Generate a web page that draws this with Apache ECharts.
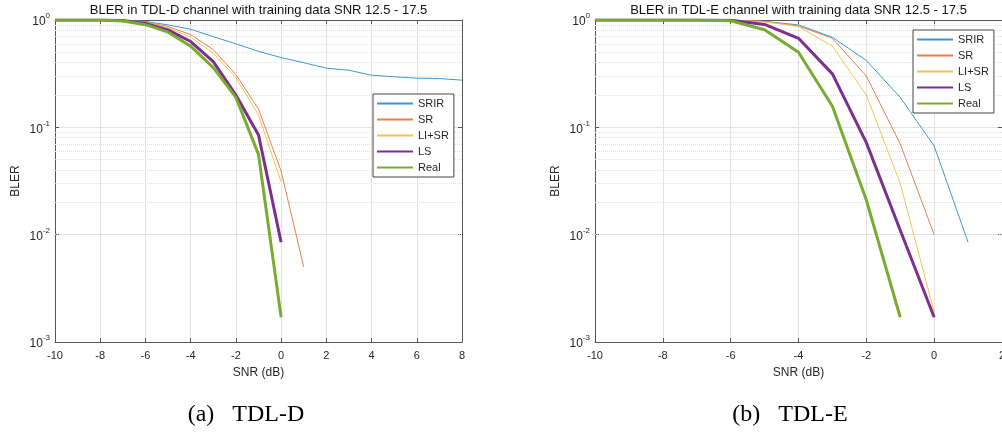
<!DOCTYPE html>
<html><head><meta charset="utf-8">
<script src="https://cdn.jsdelivr.net/npm/echarts@6/dist/echarts.min.js"></script>
<style>html,body{margin:0;padding:0;background:#fff}#c{width:1002px;height:432px}</style>
</head><body><div id="c"></div>
<script>
// ---- data ----
const seriesNames = ['SRIR', 'SR', 'LI+SR', 'LS', 'Real'];
const titleD = 'BLER in TDL-D channel with training data SNR 12.5 - 17.5';
const titleE = 'BLER in TDL-E channel with training data SNR 12.5 - 17.5';
const captionD = '(a)   TDL-D';
const captionE = '(b)   TDL-E';
const xAxisName = 'SNR (dB)';
const yAxisName = 'BLER';

// TDL-D
const snrD = [-10, -9, -8, -7, -6, -5, -4, -3, -2, -1, 0, 1, 2, 3, 4, 5, 6, 7, 8];
const srirD = [1, 1, 1, 0.99, 0.97, 0.90, 0.82, 0.70, 0.60, 0.51, 0.447, 0.40, 0.356, 0.34, 0.306, 0.296, 0.287, 0.285, 0.275];
const srD = [1, 1, 1, 0.995, 0.958, 0.87, 0.73, 0.53, 0.31, 0.148, 0.039, 0.005];
const lisrD = [1, 1, 1, 0.99, 0.95, 0.85, 0.69, 0.49, 0.29, 0.13, 0.031];
const lsD = [1, 1, 1, 0.99, 0.93, 0.81, 0.63, 0.41, 0.20, 0.085, 0.0085];
const realD = [1, 1, 1, 0.98, 0.905, 0.77, 0.57, 0.36, 0.19, 0.056, 0.0017];

// TDL-E
const snrE = [-10, -9, -8, -7, -6, -5, -4, -3, -2, -1, 0, 1];
const srirE = [1, 1, 1, 1, 1, 0.97, 0.90, 0.69, 0.42, 0.19, 0.067, 0.0085];
const srE = [1, 1, 1, 1, 1, 0.97, 0.88, 0.675, 0.30, 0.07, 0.010];
const lisrE = [1, 1, 1, 1, 1, 0.96, 0.87, 0.57, 0.20, 0.030, 0.0019];
const lsE = [1, 1, 1, 1, 0.995, 0.91, 0.675, 0.315, 0.072, 0.011, 0.0017];
const realE = [1, 1, 1, 1, 0.985, 0.81, 0.50, 0.157, 0.021, 0.0017];

const minorGridValues = [0.002, 0.003, 0.004, 0.005, 0.006, 0.007, 0.008, 0.009,
  0.02, 0.03, 0.04, 0.05, 0.06, 0.07, 0.08, 0.09,
  0.2, 0.3, 0.4, 0.5, 0.6, 0.7, 0.8, 0.9];

// ---- styles ----
const FONT = '"Liberation Sans", Arial, sans-serif';
const colors = ['#3f96d6', '#e4804f', '#f0c454', '#7e2f8e', '#77ac30'];
const widths = [1, 1, 1, 3, 3];
const AX = '#555555';

function pairs(xs, ys) { return ys.map((y, i) => [xs[i], y]); }

const chart = echarts.init(document.getElementById('c'), null, { renderer: 'canvas' });

function xAxes(grid, max) {
  return [
    { type: 'value', gridIndex: grid, min: -10, max: max, interval: 2, position: 'bottom',
      name: xAxisName, nameLocation: 'middle', nameGap: 25,
      nameTextStyle: { fontFamily: FONT, fontSize: 12, color: '#262626' },
      axisLine: { show: true, onZero: false, lineStyle: { color: AX, width: 1 } },
      axisTick: { show: true, inside: true, length: 4, lineStyle: { color: AX } },
      axisLabel: { fontFamily: FONT, fontSize: 11, color: '#262626', margin: 8, hideOverlap: false },
      splitLine: { show: true, lineStyle: { color: '#e2e2e2', width: 1 } } },
    { type: 'value', gridIndex: grid, min: -10, max: max, interval: 2, position: 'top',
      axisLine: { show: true, onZero: false, lineStyle: { color: AX, width: 1 } },
      axisTick: { show: true, inside: true, length: 4, lineStyle: { color: AX } },
      axisLabel: { show: false }, splitLine: { show: false } }
  ];
}
function yAxes(grid) {
  return [
    { type: 'log', logBase: 10, gridIndex: grid, min: 0.001, max: 1, position: 'left',
      name: yAxisName, nameLocation: 'middle', nameGap: 33, nameRotate: 90,
      nameTextStyle: { fontFamily: FONT, fontSize: 12, color: '#262626' },
      axisLine: { show: true, onZero: false, lineStyle: { color: AX, width: 1 } },
      axisTick: { show: true, inside: true, length: 4, lineStyle: { color: AX } },
      axisLabel: {
        margin: 5,
        formatter: v => '{b|10}{s|' + Math.round(Math.log10(v)) + '}',
        rich: {
          b: { fontFamily: FONT, fontSize: 12, color: '#262626', verticalAlign: 'bottom', lineHeight: 16 },
          s: { fontFamily: FONT, fontSize: 8, color: '#262626', verticalAlign: 'top', lineHeight: 16 }
        }
      },
      splitLine: { show: true, lineStyle: { color: '#e2e2e2', width: 1 } } },
    { type: 'log', logBase: 10, gridIndex: grid, min: 0.001, max: 1, position: 'right',
      axisLine: { show: true, onZero: false, lineStyle: { color: AX, width: 1 } },
      axisTick: { show: true, inside: true, length: 4, lineStyle: { color: AX } },
      axisLabel: { show: false }, splitLine: { show: false } }
  ];
}

function minorSeries(xi, yi) {
  return {
    name: 'minor-grid', type: 'line', xAxisIndex: xi, yAxisIndex: yi, data: [],
    silent: true, z: 1,
    markLine: {
      silent: true, symbol: 'none', animation: false, z: 1,
      label: { show: false },
      lineStyle: { type: 'dotted', color: '#e0e0e0', width: 1 },
      data: minorGridValues.map(v => ({ yAxis: v }))
    }
  };
}

function lineSeries(xi, yi, xs, ysList) {
  return ysList.map((ys, k) => ({
    name: seriesNames[k], type: 'line', xAxisIndex: xi, yAxisIndex: yi,
    data: pairs(xs, ys), symbol: 'none', showSymbol: false, z: 3,
    lineStyle: { color: colors[k], width: widths[k] },
    itemStyle: { color: colors[k] }
  }));
}

function legend(left, top) {
  return {
    show: true, orient: 'vertical', left: left, top: top, data: seriesNames, z: 10,
    selectedMode: false, itemWidth: 36, itemHeight: 10, itemGap: 5,
    padding: [4, 5, 4, 3], backgroundColor: '#ffffff', borderColor: '#444444', borderWidth: 1,
    itemStyle: { color: 'rgba(0,0,0,0)', borderWidth: 0, opacity: 0 },
    textStyle: { fontFamily: FONT, fontSize: 11, color: '#262626' }
  };
}

const option = {
  animation: false,
  backgroundColor: '#ffffff',
  color: colors,
  title: [
    { text: titleD, left: 258.5, top: 4, padding: 0, textAlign: 'center',
      textStyle: { fontFamily: FONT, fontSize: 13, fontWeight: 'normal', color: '#111' } },
    { text: titleE, left: 798.5, top: 4, padding: 0, textAlign: 'center',
      textStyle: { fontFamily: FONT, fontSize: 13, fontWeight: 'normal', color: '#111' } }
  ],
  legend: [legend(373, 94), legend(913, 30)],
  grid: [
    { left: 55, top: 20, width: 407, height: 322, containLabel: false, outerBoundsMode: 'none' },
    { left: 595, top: 20, width: 407, height: 322, containLabel: false, outerBoundsMode: 'none' }
  ],
  xAxis: [...xAxes(0, 8), ...xAxes(1, 2)],
  yAxis: [...yAxes(0), ...yAxes(1)],
  series: [
    minorSeries(0, 0),
    ...lineSeries(0, 0, snrD, [srirD, srD, lisrD, lsD, realD]),
    minorSeries(2, 2),
    ...lineSeries(2, 2, snrE, [srirE, srE, lisrE, lsE, realE])
  ],
  graphic: [
    { type: 'text', x: 246, y: 415, style: { text: captionD, font: '24px "Liberation Serif", "Times New Roman", serif',
      fill: '#000', textAlign: 'center', textVerticalAlign: 'middle' } },
    { type: 'text', x: 790, y: 415, style: { text: captionE, font: '24px "Liberation Serif", "Times New Roman", serif',
      fill: '#000', textAlign: 'center', textVerticalAlign: 'middle' } }
  ]
};
chart.setOption(option);
</script>
</body></html>
